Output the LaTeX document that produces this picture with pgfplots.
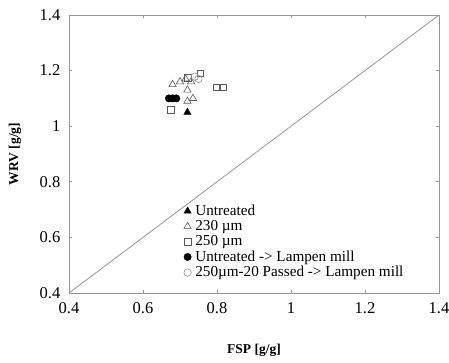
\documentclass[border=0pt]{standalone}
\usepackage{fontspec}
\setmainfont{Liberation Serif}
\usepackage{pgfplots}
\pgfplotsset{compat=1.18}
\definecolor{axgray}{RGB}{150,150,150}
\definecolor{mkgray}{RGB}{90,90,90}
\begin{document}
\fontsize{13.5}{16}\selectfont
\begin{tikzpicture}
\begin{axis}[
  name=ax,
  scale only axis, width=370pt, height=278pt,
  xmin=0.4, xmax=1.4, ymin=0.4, ymax=1.4,
  xtick={0.4,0.6,0.8,1,1.2,1.4}, ytick={0.4,0.6,0.8,1,1.2,1.4},
  xticklabels={0.4,0.6,0.8,1,1.2,1.4}, yticklabels={0.4,0.6,0.8,1,1.2,1.4},
  tick align=inside, major tick length=3pt,
  axis line style={axgray, line width=0.8pt},
  tick style={axgray, line width=0.6pt},
  tick label style={font=\fontsize{16.5}{18}\selectfont},
  every x tick label/.style={yshift=-5pt},
  every y tick label/.style={xshift=-4pt},
  xlabel={\textbf{FSP [g/g]}}, ylabel={\textbf{WRV [g/g]}},
  label style={font=\fontsize{15}{17}\selectfont},
  every axis x label/.style={at={(axis description cs:0.5,0)}, yshift=-57pt, anchor=center},
  every axis y label/.style={at={(axis description cs:0,0.5)}, xshift=-54pt, rotate=90, anchor=center},
  legend style={at={(0.31,0.325)}, anchor=north west, draw=none, fill=none, row sep=-1pt, column sep=2pt,
    font=\fontsize{15.2}{16}\selectfont, inner sep=0pt},
  legend cell align=left,
  clip=false,
]
\addplot[axgray, line width=0.8pt, forget plot] coordinates {(0.4,0.4) (1.4,1.4)};
\addplot[only marks, mark=triangle*, mark size=4.2pt, black] coordinates {(0.72,1.05)};
\addlegendentry{Untreated}
\addplot[only marks, mark=triangle, mark size=4.2pt, mkgray, mark options={line width=0.6pt}] coordinates {
(0.68,1.15) (0.70,1.16) (0.715,1.17) (0.72,1.13) (0.72,1.09) (0.735,1.10) (0.73,1.16)};
\addlegendentry{230 µm}
\addplot[only marks, mark=square, mark size=3.4pt, mkgray, mark options={line width=0.6pt}] coordinates {
(0.72,1.175) (0.755,1.19) (0.80,1.14) (0.815,1.14) (0.676,1.058)};
\addlegendentry{250 µm}
\addplot[only marks, mark=*, mark size=3.7pt, black] coordinates {(0.67,1.10) (0.68,1.10) (0.69,1.10)};
\addlegendentry{Untreated -> Lampen mill}
\addplot[only marks, mark=o, mark size=3.7pt, axgray, mark options={line width=0.6pt}] coordinates {(0.74,1.178) (0.75,1.17)};
\addlegendentry{250µm-20 Passed -> Lampen mill}
\end{axis}
\pgfresetboundingbox
\path ([shift={(-69pt,-70pt)}]ax.south west) rectangle ([shift={(10pt,15pt)}]ax.north east);
\end{tikzpicture}
\end{document}
